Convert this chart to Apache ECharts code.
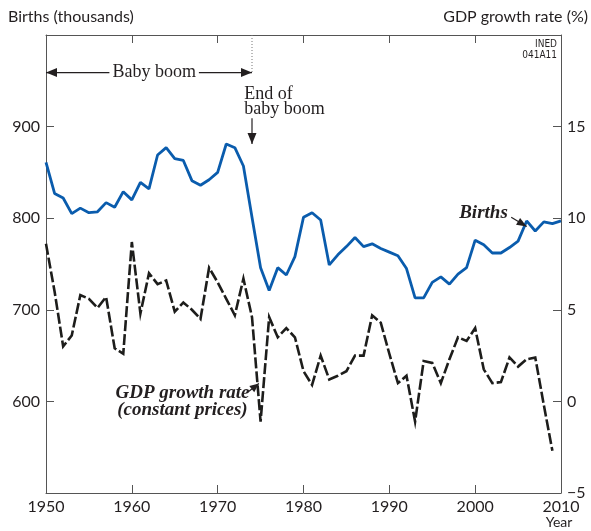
<!DOCTYPE html>
<html>
<head>
<meta charset="utf-8">
<script src="https://cdn.jsdelivr.net/npm/echarts@6/dist/echarts.min.js"></script>
<style>
  html, body { margin: 0; padding: 0; background: #fff; }
  #chart { width: 591px; height: 531px; }
</style>
</head>
<body>
<div id="chart"></div>
<script>
  // years 1950-2010
  const years = [];
  for (let y = 1950; y <= 2010; y++) years.push(y);

  // births, thousands (1950-2010)
  const births = [
    861, 827, 822, 805, 811, 806, 807, 817, 812, 829,
    820, 839, 832, 869, 877, 865, 863, 841, 836, 842,
    850, 881, 877, 857, 801, 746, 721, 746, 738, 758,
    801, 806, 798, 749, 760, 769, 779, 769, 772, 767,
    763, 759, 745, 713, 713, 730, 736, 728, 739, 746,
    776, 771, 762, 762, 768, 775, 797, 786, 796, 794,
    797
  ];

  // GDP growth rate, % (1950-2009)
  const gdpGrowth = [
    8.6, 6.0, 3.0, 3.6, 5.8, 5.6, 5.1, 5.7, 2.9, 2.6,
    8.7, 4.8, 7.0, 6.4, 6.6, 4.9, 5.4, 5.0, 4.5, 7.3,
    6.5, 5.6, 4.7, 6.7, 4.6, -1.1, 4.6, 3.5, 4.0, 3.5,
    1.65, 0.9, 2.5, 1.2, 1.4, 1.65, 2.5, 2.5, 4.7, 4.3,
    2.6, 1.0, 1.4, -1.1, 2.2, 2.1, 1.0, 2.3, 3.5, 3.3,
    4.0, 1.75, 1.0, 1.05, 2.4, 1.9, 2.3, 2.4, -0.2, -2.7
  ];

  const birthTicksShown = [600, 700, 800, 900];
  const gdpTicksShown = [-5, 0, 5, 10, 15];

  const sansFont = 'Lato, "Noto Sans", sans-serif';
  const serifFont = '"Liberation Serif", "DejaVu Serif", serif';
  const ink = '#231f20';
  const axisColor = '#555';

  const chart = echarts.init(document.getElementById('chart'));

  const xAxisBase = {
    type: 'value',
    min: 1950,
    max: 2010,
    interval: 10,
    axisLine: { show: true, onZero: false, lineStyle: { color: axisColor, width: 1 } },
    axisTick: { show: true, inside: true, length: 8, lineStyle: { color: axisColor } },
    splitLine: { show: false },
  };

  const yAxisBase = {
    type: 'value',
    axisLine: { show: true, onZero: false, lineStyle: { color: axisColor, width: 1 } },
    axisTick: { show: true, inside: true, length: 8, lineStyle: { color: axisColor } },
    splitLine: { show: false },
  };

  chart.setOption({
    animation: false,
    grid: { left: 46, right: 30, top: 35, bottom: 38 },
    xAxis: [
      {
        ...xAxisBase,
        position: 'bottom',
        axisLabel: {
          color: ink,
          fontSize: 16,
          fontFamily: sansFont,
          margin: 6,
          formatter: (v) => String(v),
        },
      },
      {
        ...xAxisBase,
        position: 'top',
        axisLabel: { show: false },
      },
    ],
    yAxis: [
      {
        ...yAxisBase,
        position: 'left',
        min: 500,
        max: 1000,
        interval: 100,
        axisLabel: {
          color: ink,
          fontSize: 16,
          fontFamily: sansFont,
          margin: 6,
          formatter: (v) => (birthTicksShown.includes(v) ? String(v) : ''),
        },
      },
      {
        ...yAxisBase,
        position: 'right',
        min: -5,
        max: 20,
        interval: 5,
        axisLabel: {
          color: ink,
          fontSize: 16,
          fontFamily: sansFont,
          margin: 6,
          formatter: (v) => {
            if (!gdpTicksShown.includes(v)) return '';
            return v < 0 ? '\u2212' + Math.abs(v) : String(v);
          },
        },
      },
    ],
    series: [
      {
        name: 'GDP growth rate',
        type: 'line',
        xAxisIndex: 0,
        yAxisIndex: 1,
        data: gdpGrowth.map((v, i) => [years[i], v]),
        showSymbol: false,
        lineStyle: { color: '#1d1d1b', width: 2.6, type: [11, 3], join: 'miter' },
        z: 2,
      },
      {
        name: 'Births',
        type: 'line',
        xAxisIndex: 0,
        yAxisIndex: 0,
        data: births.map((v, i) => [years[i], v]),
        showSymbol: false,
        lineStyle: { color: '#0a5cad', width: 2.8 },
        z: 3,
      },
    ],
  });

  // annotations, anchored in (year, births) coordinates
  const px = (x, y) => chart.convertToPixel({ xAxisIndex: 0, yAxisIndex: 0 }, [x, y]);

  const arrowHead = (from, to, len, half) => {
    const dx = to[0] - from[0];
    const dy = to[1] - from[1];
    const d = Math.sqrt(dx * dx + dy * dy);
    const ux = dx / d, uy = dy / d;
    const bx = to[0] - ux * len, by = to[1] - uy * len;
    return {
      type: 'polygon',
      shape: { points: [to, [bx - uy * half, by + ux * half], [bx + uy * half, by - ux * half]] },
      style: { fill: ink },
      z: 20,
    };
  };

  const seg = (a, b, extra) => ({
    type: 'line',
    shape: { x1: a[0], y1: a[1], x2: b[0], y2: b[1] },
    style: Object.assign({ stroke: ink, lineWidth: 1.2 }, extra || {}),
    z: 19,
  });

  const txt = (p, text, opts) => ({
    type: 'text',
    x: p[0],
    y: p[1],
    style: Object.assign({
      text: text,
      fill: ink,
      fontFamily: serifFont,
      fontSize: 18,
      align: 'left',
      textAlign: 'left',
      verticalAlign: 'middle',
      textVerticalAlign: 'middle',
    }, opts || {}),
    z: 21,
  });

  const boomY = 959;
  const boomStart = px(1950, boomY);
  const boomEnd = px(1974, boomY);
  const downFrom = px(1974, 909);
  const downTo = px(1974, 881);
  const birthsFrom = px(2004.2, 801);
  const birthsTo = px(2006, 791);
  const gdpFrom = px(1973.5, 610);
  const gdpTo = px(1974.8, 619.5);

  chart.setOption({
    graphic: [
      // dotted marker at 1974
      seg(px(1974, 1000), boomEnd, { stroke: '#777', lineWidth: 1, lineDash: [1, 2] }),
      // baby boom double arrow
      seg(boomStart, boomEnd),
      arrowHead(boomEnd, boomStart, 11, 4.5),
      arrowHead(boomStart, boomEnd, 11, 4.5),
      txt(px(1962.6, boomY), 'Baby boom', {
        align: 'center', textAlign: 'center',
        backgroundColor: '#fff', padding: [0, 3],
      }),
      // end of baby boom
      txt(px(1973.1, 927), 'End of\nbaby boom', { lineHeight: 15 }),
      seg(downFrom, downTo),
      arrowHead(downFrom, downTo, 11, 4.5),
      // births label
      txt(px(2003.8, 806), 'Births', {
        fontStyle: 'italic', fontWeight: 'bold', fontSize: 19,
        align: 'right', textAlign: 'right',
      }),
      seg(birthsFrom, birthsTo),
      arrowHead(birthsFrom, birthsTo, 10, 4),
      // gdp label
      txt(px(1965.9, 600), 'GDP growth rate\n(constant prices)', {
        fontStyle: 'italic', fontWeight: 'bold', fontSize: 19, lineHeight: 17,
        align: 'center', textAlign: 'center',
      }),
      seg(gdpFrom, gdpTo),
      arrowHead(gdpFrom, gdpTo, 9, 4),
      // axis titles
      {
        type: 'text', x: 8, y: 17, z: 21,
        style: {
          text: 'Births (thousands)', fill: ink, fontFamily: sansFont, fontSize: 16,
          align: 'left', textAlign: 'left', verticalAlign: 'middle', textVerticalAlign: 'middle',
        },
      },
      {
        type: 'text', x: 588, y: 17, z: 21,
        style: {
          text: 'GDP growth rate (%)', fill: ink, fontFamily: sansFont, fontSize: 16,
          align: 'right', textAlign: 'right', verticalAlign: 'middle', textVerticalAlign: 'middle',
        },
      },
      {
        type: 'text', x: 559, y: 522, z: 21,
        style: {
          text: 'Year', fill: ink, fontFamily: sansFont, fontSize: 14,
          align: 'center', textAlign: 'center', verticalAlign: 'middle', textVerticalAlign: 'middle',
        },
      },
      {
        type: 'text', x: 557, y: 50, z: 21,
        style: {
          text: 'INED\n041A11', fill: ink, fontFamily: '"DejaVu Sans Condensed", "Liberation Sans", sans-serif',
          fontSize: 10, lineHeight: 11,
          align: 'right', textAlign: 'right', verticalAlign: 'middle', textVerticalAlign: 'middle',
        },
      },
    ],
  });
</script>
</body>
</html>
